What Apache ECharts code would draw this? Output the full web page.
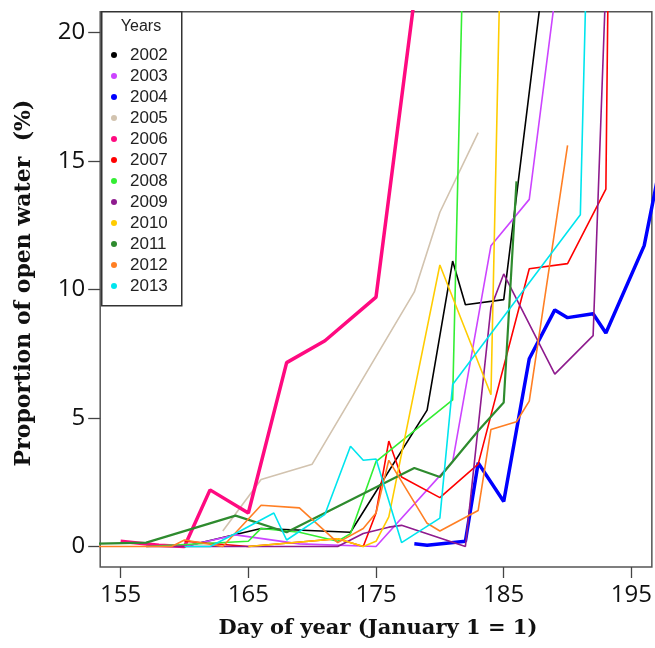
<!DOCTYPE html>
<html>
<head>
<meta charset="utf-8">
<style>
  html, body { margin: 0; padding: 0; background: #fff; }
  #chart { width: 655px; height: 648px; }
</style>
<script src="https://cdn.jsdelivr.net/npm/echarts@6/dist/echarts.min.js"></script>
</head>
<body>
<div id="chart"></div>
<script>
// ---- data (day of year, % open water) ----
const years = ['2002','2003','2004','2005','2006','2007','2008','2009','2010','2011','2012','2013'];
const colors = ['#000000','#CC44FF','#0000FF','#D2C3AF','#FF0A80','#FF0000','#33EE33','#8E1B8E','#FFCC00','#2E8B2E','#FF7F24','#00E5EE'];
const xTicks = [155, 165, 175, 185, 195];
const yTicks = [0, 5, 10, 15, 20];

const d2002 = [[160,0],[166,0.7],[173,0.55],[179,5.3],[181,11.1],[182,9.4],[185,9.6],[188,21.7]];
const d2003 = [[160,0],[164,0.45],[169,0.1],[175,0],[181,3.3],[184,11.7],[187,13.5],[189,21.3]];
const d2004 = [[178,0.1],[179,0.05],[182,0.2],[183,3.25],[185,1.75],[187,7.3],[189,9.2],[190,8.9],[192,9.05],[193,8.3],[196,11.7],[197,14.2]];
const d2005 = [[163,0.6],[166,2.6],[170,3.2],[178,9.9],[180,13.0],[183,16.1]];
const d2006 = [[155,0.2],[158,0.05],[160,0],[162,2.2],[165,1.3],[168,7.15],[171,8.0],[175,9.7],[178,21.3]];
const d2007 = [[160,0.2],[165,0],[172,0.3],[174,0],[175,1.3],[176,4.1],[177,2.7],[180,1.9],[183,3.2],[187,10.8],[190,11.0],[193,13.9],[194,60]];
const d2008 = [[157,0],[165,0.2],[166,0.7],[169,0.55],[172,0.2],[173,0.5],[175,3.3],[181,5.7],[182,27]];
const d2009 = [[157,0],[172,0],[174,0.5],[176,0.75],[177,0.82],[182,0],[184,9.3],[185,10.6],[189,6.7],[192,8.2],[193,22]];
const d2010 = [[165,0],[172,0.3],[174,0],[175,0.2],[176,1.15],[180,10.95],[184,5.9],[185,29]];
const d2011 = [[152,0.1],[157,0.15],[164,1.2],[168,0.55],[178,3.05],[180,2.7],[183,4.5],[185,5.6],[186,14.2]];
const d2012 = [[152,0],[159,0],[160,0.25],[163,0],[166,1.6],[169,1.5],[172,0.15],[174,0.7],[175,1.3],[176,3.35],[179,0.9],[180,0.6],[183,1.4],[184,4.55],[186,4.85],[187,5.65],[190,15.6]];
const d2013 = [[160,0],[162,0],[164,0.5],[167,1.3],[168,0.25],[171,1.25],[173,3.9],[174,3.35],[175,3.4],[177,0.15],[180,1.1],[181,6.3],[191,12.9],[192,33]];

const seriesData = [d2002,d2003,d2004,d2005,d2006,d2007,d2008,d2009,d2010,d2011,d2012,d2013];
const widths = [1.6,1.6,3.5,1.6,3.5,1.6,1.6,1.6,1.6,2.2,1.6,1.6];

const chart = echarts.init(document.getElementById('chart'), null, {renderer: 'canvas'});

const option = {
  animation: false,
  backgroundColor: '#ffffff',
  grid: {
    left: 100.2, right: 1.8, top: 11.7, bottom: 81,
    show: true, borderColor: '#555', borderWidth: 1.5, backgroundColor: 'transparent'
  },
  xAxis: {
    type: 'value', min: 153.4, max: 196.6,
    axisLine: {show: false, onZero: false},
    splitLine: {show: false},
    axisTick: {show: true, customValues: xTicks, length: 11, lineStyle: {color: '#444', width: 1.3}},
    axisLabel: {customValues: xTicks, margin: 16, fontSize: 24, color: '#111', fontFamily: 'Open Sans'}
  },
  yAxis: {
    type: 'value', min: -0.8, max: 20.8,
    axisLine: {show: false, onZero: false},
    splitLine: {show: false},
    axisTick: {show: true, customValues: yTicks, length: 12, lineStyle: {color: '#444', width: 1.3}},
    axisLabel: {customValues: yTicks, margin: 15, fontSize: 24, color: '#111', fontFamily: 'Open Sans'}
  },
  legend: {
    data: years,
    orient: 'vertical',
    left: 106, top: 39.5,
    z: 100,
    icon: 'circle',
    itemWidth: 22, itemHeight: 6, itemGap: 0,
    textStyle: {fontSize: 17, lineHeight: 21, color: '#222', fontFamily: 'Liberation Sans'}
  },
  graphic: [
    {type: 'rect', left: 101, top: 11, shape: {width: 80, height: 294}, style: {fill: '#fff', stroke: '#333', lineWidth: 1.5}, z: 50},
    {type: 'text', x: 141, y: 27, style: {text: 'Years', fontSize: 16, fontFamily: 'Liberation Sans', fill: '#222', align: 'center', verticalAlign: 'middle'}, z: 100},
    {type: 'text', x: 378, y: 629, style: {text: 'Day of year (January 1 = 1)', fontSize: 21, fontWeight: 'bold', fontFamily: 'DejaVu Serif', fill: '#111', align: 'center', verticalAlign: 'middle'}},
    {type: 'text', x: 24, y: 283, rotation: Math.PI / 2, style: {text: 'Proportion of open water  (%)', fontSize: 22, fontWeight: 'bold', fontFamily: 'DejaVu Serif', fill: '#111', align: 'center', verticalAlign: 'middle'}}
  ],
  series: years.map((y, i) => ({
    name: y,
    type: 'line',
    data: seriesData[i],
    showSymbol: false,
    symbol: 'circle',
    clip: true,
    color: colors[i],
    lineStyle: {width: widths[i], color: colors[i]},
    z: 2 + i
  }))
};
chart.setOption(option);
</script>
</body>
</html>
